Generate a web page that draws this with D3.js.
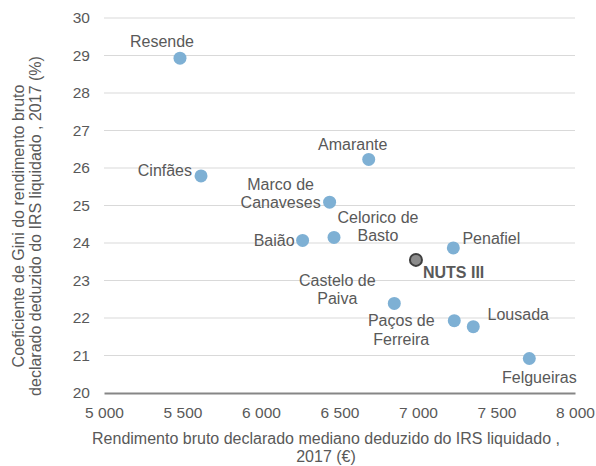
<!DOCTYPE html>
<html>
<head>
<meta charset="utf-8">
<script src="https://cdn.jsdelivr.net/npm/d3@7"></script>
<style>
  body { margin: 0; background: #fff; }
  svg { font-family: "Liberation Sans", Arial, sans-serif; }
</style>
</head>
<body>
<svg id="plot"></svg>
<script>
// Data
const places = ["Resende", "Cinfães", "Amarante", "Marco de Canaveses", "Baião", "Celorico de Basto",
  "Penafiel", "Castelo de Paiva", "Paços de Ferreira", "Lousada", "Felgueiras"];
const income = [5484, 5618, 6686, 6437, 6265, 6465, 7225, 6849, 7231, 7352, 7709];
const gini = [28.93, 25.79, 26.23, 25.09, 24.07, 24.15, 23.87, 22.39, 21.93, 21.77, 20.92];
const nuts = { name: "NUTS III", income: 6987, gini: 23.55 };
const xTicks = [5000, 5500, 6000, 6500, 7000, 7500, 8000];
const yTicks = [20, 21, 22, 23, 24, 25, 26, 27, 28, 29, 30];

// label placement (lines, anchor, offset from point centre)
const labelPos = {
  "Resende": { lines: ["Resende"], anchor: "middle", dx: -18, dy: -17 },
  "Cinfães": { lines: ["Cinfães"], anchor: "end", dx: -9, dy: -5 },
  "Amarante": { lines: ["Amarante"], anchor: "middle", dx: -16, dy: -15 },
  "Marco de Canaveses": { lines: ["Marco de", "Canaveses"], anchor: "middle", dx: -49, dy: -18 },
  "Baião": { lines: ["Baião"], anchor: "end", dx: -8, dy: 0 },
  "Celorico de Basto": { lines: ["Celorico de", "Basto"], anchor: "middle", dx: 44, dy: -20 },
  "Penafiel": { lines: ["Penafiel"], anchor: "middle", dx: 38, dy: -9 },
  "Castelo de Paiva": { lines: ["Castelo de", "Paiva"], anchor: "middle", dx: -57, dy: -23 },
  "Paços de Ferreira": { lines: ["Paços de", "Ferreira"], anchor: "middle", dx: -53, dy: 0 },
  "Lousada": { lines: ["Lousada"], anchor: "middle", dx: 45, dy: -12 },
  "Felgueiras": { lines: ["Felgueiras"], anchor: "middle", dx: 10, dy: 19 }
};

const data = places.map((p, i) => ({ name: p, income: income[i], gini: gini[i] }));

const W = 596, H = 466;
const margin = { top: 18, right: 21, bottom: 73, left: 104 };
const width = W - margin.left - margin.right;
const height = H - margin.top - margin.bottom;
const textCol = "#595959";

const root = d3.select("#plot")
  .attr("width", W)
  .attr("height", H);

const svg = root.append("g")
  .attr("transform", "translate(" + margin.left + "," + margin.top + ")");

const x = d3.scaleLinear().domain([5000, 8000]).range([0, width]);
const y = d3.scaleLinear().domain([20, 30]).range([height, 0]);
const fmt = d => d3.format(",")(d).replace(",", " ");

// gridlines
svg.selectAll(".grid")
  .data(yTicks.filter(t => t > 20))
  .enter().append("line")
  .attr("x1", 0).attr("x2", width)
  .attr("y1", d => y(d)).attr("y2", d => y(d))
  .attr("stroke", "#d9d9d9")
  .attr("stroke-width", 1);

// y axis labels
const yAxis = svg.append("g")
  .call(d3.axisLeft(y).tickValues(yTicks).tickSize(0).tickPadding(14));
yAxis.select(".domain").remove();
yAxis.selectAll("text").attr("fill", textCol).style("font-size", "15.5px")
  .style("font-family", "Liberation Sans, Arial, sans-serif");

// x axis
const xAxis = svg.append("g")
  .attr("transform", "translate(0," + height + ")")
  .call(d3.axisBottom(x).tickValues(xTicks).tickFormat(fmt).tickSize(0).tickPadding(14));
xAxis.select(".domain").attr("stroke", "#868686").attr("stroke-width", 2);
xAxis.selectAll("text").attr("fill", textCol).style("font-size", "15.5px")
  .style("font-family", "Liberation Sans, Arial, sans-serif");

// points
svg.selectAll(".dot")
  .data(data)
  .enter().append("circle")
  .attr("class", "dot")
  .attr("cx", d => x(d.income))
  .attr("cy", d => y(d.gini))
  .attr("r", 6.5)
  .attr("fill", "#7eb0d4");

svg.append("circle")
  .attr("cx", x(nuts.income))
  .attr("cy", y(nuts.gini))
  .attr("r", 6)
  .attr("fill", "#8c8c8c")
  .attr("stroke", "#3f3f3f")
  .attr("stroke-width", 2);

// point labels
data.forEach(d => {
  const lp = labelPos[d.name];
  const t = svg.append("text")
    .attr("x", x(d.income) + lp.dx)
    .attr("y", y(d.gini) + lp.dy)
    .attr("text-anchor", lp.anchor)
    .attr("fill", textCol)
    .style("font-size", "16px");
  lp.lines.forEach((l, i) => {
    t.append("tspan")
      .attr("x", x(d.income) + lp.dx)
      .attr("dy", i === 0 ? "0.35em" : "18.5px")
      .text(l);
  });
});

svg.append("text")
  .attr("x", x(nuts.income) + 7)
  .attr("y", y(nuts.gini) + 13)
  .attr("dy", "0.35em")
  .attr("fill", textCol)
  .style("font-size", "16px")
  .style("font-weight", "bold")
  .text(nuts.name);

// x axis title
const xt = root.append("text")
  .attr("text-anchor", "middle")
  .attr("fill", textCol)
  .style("font-size", "16px");
xt.append("tspan").attr("x", 326).attr("y", 444).text("Rendimento bruto declarado mediano deduzido do IRS liquidado ,");
xt.append("tspan").attr("x", 326).attr("y", 462).text("2017 (€)");

// y axis title
const yt = root.append("text")
  .attr("transform", "translate(0,226) rotate(-90)")
  .attr("text-anchor", "middle")
  .attr("fill", textCol)
  .style("font-size", "16px");
yt.append("tspan").attr("x", 0).attr("y", 23.5).text("Coeficiente de Gini do rendimento bruto");
yt.append("tspan").attr("x", 0).attr("y", 41).text("declarado deduzido do IRS liquidado , 2017 (%)");
</script>
</body>
</html>
